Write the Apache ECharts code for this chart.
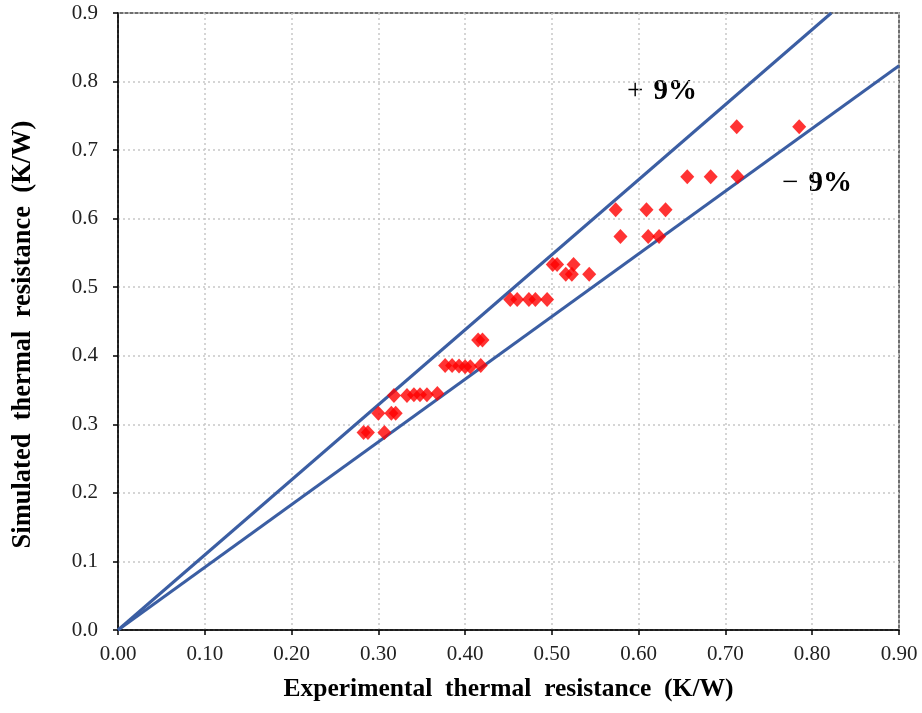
<!DOCTYPE html>
<html><head><meta charset="utf-8">
<script src="https://cdn.jsdelivr.net/npm/echarts@6/dist/echarts.min.js"></script>
<style>html,body{margin:0;padding:0;background:#fff}#c{width:922px;height:713px}</style>
</head><body><div id="c"></div>
<script>
const expX = [0.283,0.288,0.307,0.300,0.315,0.320,0.318,0.333,0.341,0.348,0.356,0.368,0.377,0.385,0.393,0.400,0.406,0.418,0.415,0.420,0.452,0.460,0.4735,0.481,0.4945,0.501,0.506,0.525,0.516,0.523,0.543,0.5735,0.579,0.609,0.631,0.611,0.6235,0.656,0.683,0.714,0.713,0.785];
const simY = [0.288,0.288,0.288,0.316,0.316,0.316,0.342,0.342,0.343,0.343,0.343,0.345,0.386,0.386,0.385,0.384,0.384,0.386,0.423,0.423,0.482,0.482,0.482,0.482,0.482,0.533,0.533,0.533,0.519,0.519,0.519,0.613,0.574,0.613,0.613,0.574,0.574,0.661,0.661,0.661,0.734,0.734];
const upperLineX = [0, 0.822];
const upperLineY = [0, 0.9];
const lowerLineX = [0, 0.9];
const lowerLineY = [0, 0.823];
const xTicks = ['0.00','0.10','0.20','0.30','0.40','0.50','0.60','0.70','0.80','0.90'];
const yTicks = ['0.0','0.1','0.2','0.3','0.4','0.5','0.6','0.7','0.8','0.9'];

const pts = expX.map((x,i)=>[x, simY[i]]);
const up = upperLineX.map((x,i)=>[x, upperLineY[i]]);
const lo = lowerLineX.map((x,i)=>[x, lowerLineY[i]]);
const serif = '"Liberation Serif","Times New Roman",serif';
const chart = echarts.init(document.getElementById('c'));
chart.setOption({
  animation:false,
  grid:{left:118,right:23,top:13,bottom:83,show:true,borderColor:'#404040',borderWidth:1.5},
  xAxis:{type:'value',min:0,max:0.9,interval:0.1,
    name:'Experimental  thermal  resistance  (K/W)',nameLocation:'middle',nameGap:46,
    nameTextStyle:{fontFamily:serif,fontSize:25.5,fontWeight:'bold',color:'#000'},
    axisLine:{lineStyle:{color:'#000',width:1.5}},
    axisTick:{show:true,length:5,lineStyle:{color:'#000',width:1.5}},
    axisLabel:{fontFamily:serif,fontSize:21,color:'#222',margin:14,formatter:(v)=>xTicks[Math.round(v*10)]},
    splitLine:{show:true,lineStyle:{color:'#c8c8c8',type:[2,3],width:1.5}}},
  yAxis:{type:'value',min:0,max:0.9,interval:0.1,
    name:'Simulated  thermal  resistance  (K/W)',nameLocation:'middle',nameGap:81,
    nameTextStyle:{fontFamily:serif,fontSize:26.5,fontWeight:'bold',color:'#000',padding:[0,26,0,0]},
    axisLine:{show:true,lineStyle:{color:'#000',width:1.5}},
    axisTick:{show:true,length:5,lineStyle:{color:'#000',width:1.5}},
    axisLabel:{fontFamily:serif,fontSize:21,color:'#222',margin:20,formatter:(v)=>yTicks[Math.round(v*10)]},
    splitLine:{show:true,lineStyle:{color:'#c8c8c8',type:[2,3],width:1.5}}},
  series:[
    {type:'line',data:up,symbol:'none',lineStyle:{color:'#3b5ea3',width:3},z:3},
    {type:'line',data:lo,symbol:'none',lineStyle:{color:'#3b5ea3',width:3},z:3},
    {type:'scatter',data:pts,symbol:'diamond',symbolSize:[14,15],itemStyle:{color:'#ff0000'},z:4}
  ],
  graphic:[
    {type:'text',left:627,top:77,style:{text:'{a|+ }{b|9%}',rich:{a:{fontFamily:serif,fontSize:29,lineHeight:32,fill:'#000',padding:[0,3,0,0]},b:{fontFamily:serif,fontSize:29,lineHeight:32,fontWeight:'bold',fill:'#000'}}}},
    {type:'text',left:782,top:169,style:{text:'{a|− }{b|9%}',rich:{a:{fontFamily:serif,fontSize:29,lineHeight:32,fill:'#000',padding:[0,3,0,0]},b:{fontFamily:serif,fontSize:29,lineHeight:32,fontWeight:'bold',fill:'#000'}}}}
  ]
});
</script></body></html>
